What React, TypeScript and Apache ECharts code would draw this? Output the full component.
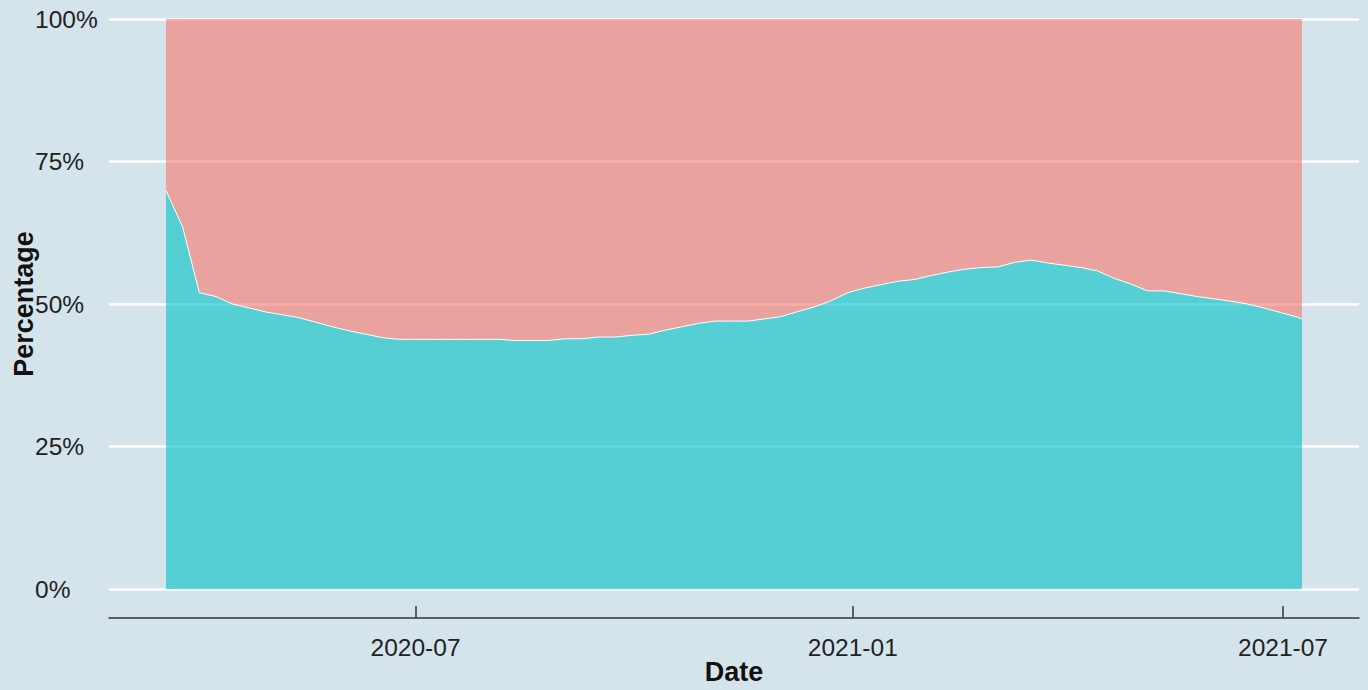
import React, { useEffect, useRef } from "react";
import * as echarts from "echarts";

const dates: string[] = [
  "2020-03-18", "2020-03-25", "2020-04-01", "2020-04-08", "2020-04-15", "2020-04-22", "2020-04-29",
  "2020-05-06", "2020-05-13", "2020-05-20", "2020-05-27", "2020-06-03", "2020-06-10", "2020-06-17",
  "2020-06-24", "2020-07-01", "2020-07-08", "2020-07-15", "2020-07-22", "2020-07-29", "2020-08-05",
  "2020-08-12", "2020-08-19", "2020-08-26", "2020-09-02", "2020-09-09", "2020-09-16", "2020-09-23",
  "2020-09-30", "2020-10-07", "2020-10-14", "2020-10-21", "2020-10-28", "2020-11-04", "2020-11-11",
  "2020-11-18", "2020-11-25", "2020-12-02", "2020-12-09", "2020-12-16", "2020-12-23", "2020-12-30",
  "2021-01-06", "2021-01-13", "2021-01-20", "2021-01-27", "2021-02-03", "2021-02-10", "2021-02-17",
  "2021-02-24", "2021-03-03", "2021-03-10", "2021-03-17", "2021-03-24", "2021-03-31", "2021-04-07",
  "2021-04-14", "2021-04-21", "2021-04-28", "2021-05-05", "2021-05-12", "2021-05-19", "2021-05-26",
  "2021-06-02", "2021-06-09", "2021-06-16", "2021-06-23", "2021-06-30", "2021-07-07", "2021-07-09",
];

// share (%) of the lower (teal) group; the upper (salmon) group fills the rest up to 100%
const lowerShare: number[] = [
  69.9, 63.5, 52.0, 51.3, 50.0, 49.3, 48.6,
  48.1, 47.6, 46.8, 46.0, 45.3, 44.7, 44.1,
  43.8, 43.8, 43.8, 43.8, 43.8, 43.8, 43.8,
  43.6, 43.6, 43.6, 43.9, 43.9, 44.2, 44.2,
  44.5, 44.7, 45.4, 46.0, 46.6, 47.0, 47.0,
  47.0, 47.4, 47.8, 48.7, 49.5, 50.6, 52.0,
  52.8, 53.4, 54.0, 54.3, 55.0, 55.6, 56.1,
  56.4, 56.5, 57.3, 57.7, 57.2, 56.8, 56.4,
  55.8, 54.5, 53.5, 52.3, 52.3, 51.8, 51.3,
  50.9, 50.5, 50.0, 49.3, 48.5, 47.7, 47.4,
];

const tickDates: string[] = ["2020-07-01", "2021-01-01", "2021-07-01"];
const yTicks: number[] = [0, 25, 50, 75, 100];
const xRange: string[] = ["2020-02-23", "2021-08-02"];

const ts = (d: string) => {
  const [y, m, dd] = d.split("-").map(Number);
  return Date.UTC(y, m - 1, dd);
};

const fmtMonth = (v: number) => {
  const d = new Date(v);
  const m = d.getUTCMonth() + 1;
  return `${d.getUTCFullYear()}-${m < 10 ? "0" + m : m}`;
};

export default function App() {
  const ref = useRef<HTMLDivElement>(null);
  useEffect(() => {
    if (!ref.current) return;
    const chart = echarts.init(ref.current, undefined, { renderer: "svg" });
    const lowerData = dates.map((d, i) => [ts(d), lowerShare[i]]);
    const font = "'Liberation Sans', Arial, sans-serif";
    chart.setOption({
      animation: false,
      backgroundColor: "#D5E4EB",
      grid: { left: 109, right: 9, top: 19, bottom: 101, outerBoundsMode: "none", containLabel: false },
      xAxis: {
        type: "value",
        min: ts(xRange[0]),
        max: ts(xRange[1]),
        offset: 29,
        name: "Date",
        nameLocation: "middle",
        nameGap: 40,
        nameMoveOverlap: false,
        nameTextStyle: { fontFamily: font, fontSize: 27, fontWeight: "bold", color: "#111" },
        axisLine: { show: true, onZero: false, lineStyle: { color: "#333", width: 1.5 } },
        axisTick: {
          show: true,
          inside: true,
          length: 12,
          customValues: tickDates.map(ts),
          lineStyle: { color: "#333", width: 1.5 },
        },
        axisLabel: {
          customValues: tickDates.map(ts),
          formatter: (v: number) => fmtMonth(v),
          fontFamily: font,
          fontSize: 24.5,
          color: "#222",
          margin: 17,
        },
        splitLine: { show: false },
      },
      yAxis: {
        type: "value",
        min: 0,
        max: 100,
        interval: 25,
        name: "Percentage",
        nameLocation: "middle",
        nameRotate: 90,
        nameGap: 72,
        nameMoveOverlap: false,
        nameTextStyle: { fontFamily: font, fontSize: 27, fontWeight: "bold", color: "#111" },
        axisLine: { show: false },
        axisTick: { show: false },
        axisLabel: {
          customValues: yTicks,
          formatter: "{value}%",
          align: "left",
          margin: 74,
          fontFamily: font,
          fontSize: 24.5,
          color: "#222",
          padding: [7, 0, 0, 0],
        },
        splitLine: { show: true, lineStyle: { color: "#FFFFFF", width: 2.5 } },
      },
      series: [
        {
          name: "upper",
          type: "line",
          data: lowerData,
          showSymbol: false,
          symbol: "none",
          z: 2,
          lineStyle: { color: "#FFFFFF", width: 0 },
          areaStyle: { color: "#F8766D", opacity: 0.6, origin: "end" },
        },
        {
          name: "lower",
          type: "line",
          data: lowerData,
          showSymbol: false,
          symbol: "none",
          z: 3,
          lineStyle: { color: "#FFFFFF", width: 1 },
          areaStyle: { color: "#00BFC4", opacity: 0.6, origin: "start" },
        },
      ],
    });
    return () => chart.dispose();
  }, []);
  return (
    <div
      ref={ref}
      style={{ position: "absolute", left: 0, top: 0, width: 1368, height: 690 }}
    />
  );
}
